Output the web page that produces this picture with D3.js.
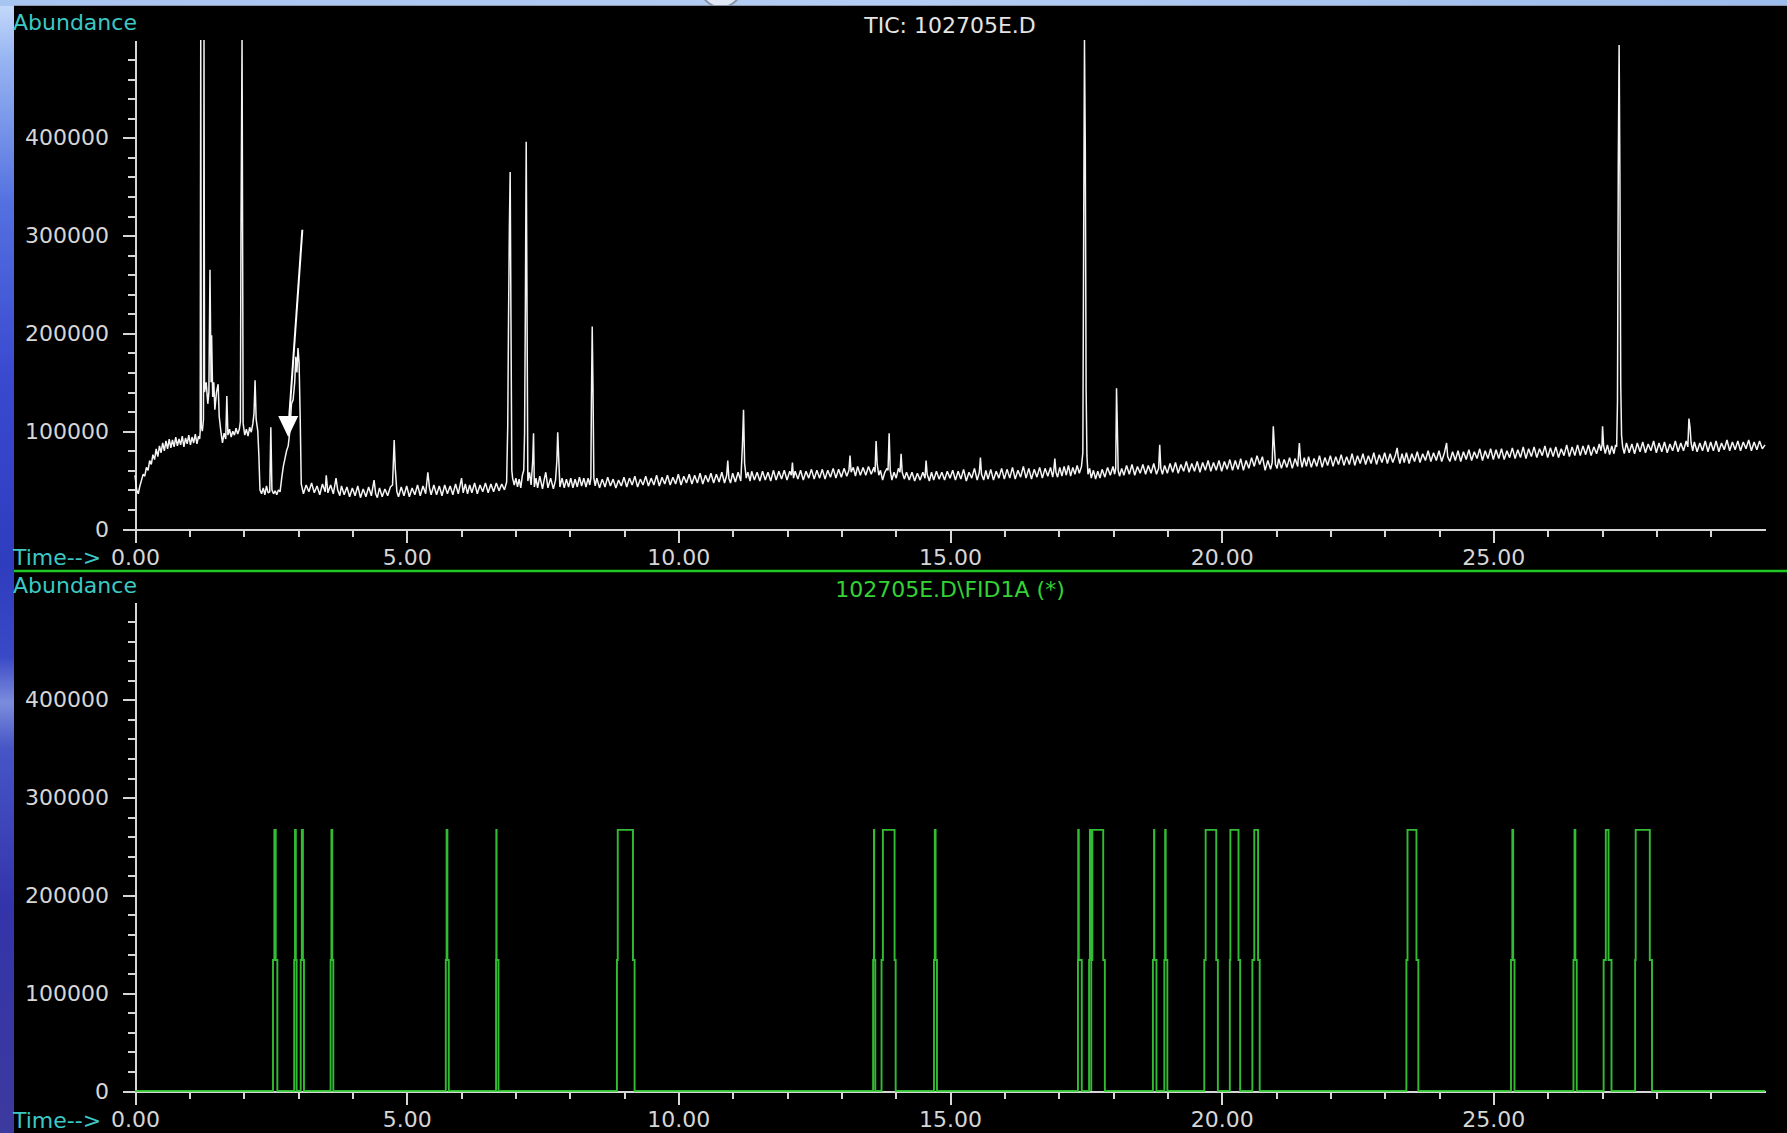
<!DOCTYPE html>
<html><head><meta charset="utf-8">
<script src="https://cdn.jsdelivr.net/npm/d3@7"></script>
<style>html,body{margin:0;padding:0;background:#000;overflow:hidden}svg{display:block}</style>
</head><body><svg id="c" width="1787" height="1133"></svg>
<script>
// ---------------- data ----------------
const ticTitle = "TIC: 102705E.D";
const fidTitle = "102705E.D\\FID1A (*)";
const yAxisName = "Abundance";
const xAxisName = "Time-->";
const xMajorTicks = [0, 5, 10, 15, 20, 25];
const xTickLabels = ["0.00", "5.00", "10.00", "15.00", "20.00", "25.00"];
const xMinorTicks = [0,1,2,3,4,5,6,7,8,9,10,11,12,13,14,15,16,17,18,19,20,21,22,23,24,25,26,27,28,29];
const yMajorTicksK = [0, 100, 200, 300, 400];
const yTickLabels = ["0", "100000", "200000", "300000", "400000"];
const yMinorTicksK = [0,20,40,60,80,100,120,140,160,180,200,220,240,260,280,300,320,340,360,380,400,420,440,460,480];

// TIC trace: [time (min), abundance (thousands)]
const ticAbundanceK = [
[0.00,55],[0.03,40],[0.06,36],[0.09,44],[0.12,50],[0.15,56],[0.18,54],[0.21,63],[0.24,60],[0.27,70],
[0.30,66],[0.33,76],[0.36,71],[0.39,82],[0.42,74],[0.45,85],[0.48,78],[0.51,88],[0.54,80],[0.57,90],
[0.60,82],[0.63,92],[0.66,83],[0.69,91],[0.72,84],[0.75,94],[0.78,85],[0.81,92],[0.84,86],[0.87,95],
[0.90,84],[0.93,93],[0.96,87],[0.99,96],[1.02,86],[1.05,94],[1.08,88],[1.11,97],[1.14,87],[1.17,95],
[1.19,92],[1.20,100],[1.21,520],[1.22,105],[1.24,100],[1.26,112],[1.27,520],[1.28,140],[1.31,150],[1.34,128],
[1.36,140],[1.38,265],[1.40,150],[1.41,198],[1.43,135],[1.45,150],[1.47,122],[1.50,140],[1.53,148],[1.55,115],
[1.58,100],[1.61,88],[1.64,98],[1.67,92],[1.69,136],[1.71,96],[1.74,102],[1.77,94],[1.80,100],[1.83,96],
[1.86,103],[1.89,97],[1.92,102],[1.94,110],[1.95,298],[1.97,520],[1.99,108],[2.02,96],[2.05,102],[2.08,95],
[2.11,104],[2.14,99],[2.17,108],[2.19,118],[2.21,152],[2.23,112],[2.26,100],[2.28,75],[2.30,40],[2.33,36],
[2.36,42],[2.39,35],[2.42,44],[2.45,37],[2.48,38],[2.50,104],[2.52,40],[2.55,36],[2.58,39],[2.61,35],
[2.64,40],[2.67,38],[2.70,52],[2.73,64],[2.76,72],[2.79,80],[2.82,85],[2.85,100],[2.88,128],[2.91,132],
[2.94,150],[2.96,176],[2.98,160],[3.00,185],[3.02,170],[3.04,115],[3.06,46],[3.10,36],[3.15,45],[3.20,38],
[3.25,47],[3.30,37],[3.35,44],[3.40,35],[3.45,46],[3.50,38],[3.52,55],[3.55,37],[3.60,45],[3.65,36],
[3.70,52],[3.73,40],[3.77,34],[3.80,44],[3.85,35],[3.90,43],[3.95,33],[4.00,42],[4.05,34],[4.10,44],
[4.15,32],[4.20,41],[4.25,33],[4.30,43],[4.35,34],[4.40,50],[4.43,36],[4.46,32],[4.50,42],[4.55,33],
[4.60,41],[4.65,34],[4.70,43],[4.74,45],[4.77,91],[4.79,62],[4.82,38],[4.85,33],[4.90,43],[4.95,34],
[5.00,44],[5.05,33],[5.10,42],[5.15,35],[5.20,45],[5.25,34],[5.30,44],[5.35,36],[5.39,58],[5.42,42],
[5.45,35],[5.50,45],[5.55,35],[5.60,44],[5.65,34],[5.70,45],[5.75,36],[5.80,44],[5.85,35],[5.90,46],
[5.95,36],[6.01,52],[6.04,37],[6.08,46],[6.12,36],[6.16,45],[6.20,37],[6.25,47],[6.30,36],[6.35,45],
[6.40,38],[6.45,47],[6.50,37],[6.55,46],[6.60,38],[6.65,47],[6.70,39],[6.75,46],[6.80,40],[6.84,48],
[6.86,105],[6.875,216],[6.89,306],[6.905,365],[6.92,211],[6.935,60],[6.95,52],[6.98,45],[7.01,52],[7.04,43],
[7.07,51],[7.10,42],[7.13,55],[7.155,60],[7.17,98],[7.185,227],[7.20,396],[7.215,229],[7.23,49],[7.26,58],
[7.29,45],[7.32,70],[7.335,98],[7.35,43],[7.38,52],[7.41,42],[7.45,54],[7.50,41],[7.53,50],[7.56,58],
[7.60,42],[7.65,52],[7.70,41],[7.74,50],[7.765,70],[7.78,99],[7.80,70],[7.82,43],[7.86,52],[7.90,42],
[7.94,51],[7.98,43],[8.02,52],[8.06,42],[8.10,51],[8.14,43],[8.18,53],[8.22,44],[8.26,52],[8.30,43],
[8.34,52],[8.37,45],[8.39,52],[8.40,129],[8.415,207],[8.43,140],[8.445,52],[8.47,44],[8.50,52],[8.55,42],
[8.60,51],[8.65,43],[8.70,53],[8.75,44],[8.80,51],[8.85,42],[8.90,50],[8.95,44],[9.00,53],[9.05,43],
[9.10,52],[9.15,45],[9.20,54],[9.25,43],[9.30,51],[9.35,45],[9.40,54],[9.45,44],[9.50,52],[9.55,45],
[9.60,55],[9.65,44],[9.70,53],[9.75,46],[9.80,55],[9.85,45],[9.90,53],[9.95,46],[10.00,56],[10.05,45],
[10.10,54],[10.15,47],[10.20,56],[10.25,46],[10.30,55],[10.35,47],[10.40,57],[10.45,46],[10.50,55],[10.55,48],
[10.60,57],[10.65,47],[10.70,56],[10.75,48],[10.80,58],[10.85,47],[10.89,55],[10.91,70],[10.93,52],[10.96,47],
[11.00,57],[11.05,48],[11.10,58],[11.15,49],[11.18,86],[11.20,122],[11.22,67],[11.25,52],[11.28,58],[11.32,49],
[11.35,59],[11.40,50],[11.45,58],[11.50,49],[11.55,59],[11.60,50],[11.65,58],[11.70,49],[11.75,60],[11.80,50],
[11.85,59],[11.90,51],[11.95,60],[12.00,50],[12.05,59],[12.08,55],[12.10,68],[12.12,52],[12.15,59],[12.20,51],
[12.25,60],[12.30,50],[12.35,59],[12.40,52],[12.45,61],[12.50,51],[12.55,60],[12.60,52],[12.65,61],[12.70,51],
[12.75,60],[12.80,53],[12.85,62],[12.90,52],[12.95,61],[13.00,53],[13.05,62],[13.10,54],[13.14,60],[13.16,75],
[13.18,58],[13.22,63],[13.26,54],[13.30,64],[13.35,55],[13.40,63],[13.45,55],[13.50,64],[13.55,56],[13.60,63],
[13.62,58],[13.64,90],[13.66,66],[13.69,55],[13.72,60],[13.76,50],[13.80,58],[13.84,62],[13.86,60],[13.88,98],
[13.90,60],[13.93,50],[13.97,58],[14.01,52],[14.05,62],[14.08,58],[14.10,77],[14.12,58],[14.16,51],[14.20,58],
[14.25,50],[14.30,58],[14.35,49],[14.40,57],[14.45,50],[14.50,58],[14.54,52],[14.56,70],[14.58,56],[14.62,49],
[14.66,58],[14.70,50],[14.75,59],[14.80,51],[14.85,58],[14.90,50],[14.95,59],[15.00,52],[15.05,60],[15.10,50],
[15.15,59],[15.20,51],[15.25,61],[15.30,49],[15.35,58],[15.40,52],[15.45,62],[15.50,50],[15.54,58],[15.56,73],
[15.58,56],[15.62,50],[15.66,60],[15.70,51],[15.75,61],[15.80,50],[15.85,59],[15.90,52],[15.95,62],[16.00,51],
[16.05,61],[16.10,52],[16.15,63],[16.20,51],[16.25,60],[16.30,53],[16.35,64],[16.40,52],[16.45,62],[16.50,51],
[16.55,61],[16.60,53],[16.65,63],[16.70,52],[16.75,62],[16.80,54],[16.85,63],[16.89,53],[16.91,60],[16.93,72],
[16.95,58],[16.98,53],[17.02,63],[17.06,54],[17.10,64],[17.14,55],[17.18,65],[17.22,54],[17.26,63],[17.30,56],
[17.34,65],[17.38,57],[17.42,64],[17.445,78],[17.46,299],[17.475,520],[17.49,390],[17.505,144],[17.52,75],[17.54,56],
[17.57,62],[17.60,52],[17.64,60],[17.68,51],[17.72,59],[17.76,52],[17.80,61],[17.85,53],[17.90,63],[17.95,55],
[18.00,64],[18.03,56],[18.05,62],[18.065,144],[18.08,104],[18.095,60],[18.12,54],[18.16,62],[18.20,55],[18.25,65],
[18.30,56],[18.35,66],[18.40,55],[18.45,64],[18.50,57],[18.55,66],[18.60,56],[18.65,65],[18.70,57],[18.75,67],
[18.80,56],[18.84,62],[18.86,86],[18.88,62],[18.91,56],[18.95,65],[19.00,57],[19.05,67],[19.10,58],[19.15,68],
[19.20,57],[19.25,66],[19.30,59],[19.35,69],[19.40,58],[19.45,67],[19.50,59],[19.55,69],[19.60,58],[19.65,68],
[19.70,60],[19.75,70],[19.80,59],[19.85,68],[19.90,60],[19.95,70],[20.00,59],[20.05,69],[20.10,61],[20.15,71],
[20.20,60],[20.25,70],[20.30,61],[20.35,72],[20.40,60],[20.45,70],[20.50,62],[20.55,73],[20.60,64],[20.65,75],
[20.70,66],[20.75,74],[20.80,60],[20.85,70],[20.90,61],[20.93,68],[20.95,105],[20.97,85],[20.99,66],[21.02,62],
[21.05,72],[21.10,62],[21.15,71],[21.20,63],[21.25,73],[21.30,62],[21.35,72],[21.40,64],[21.43,88],[21.45,72],
[21.48,63],[21.52,73],[21.56,64],[21.60,74],[21.65,63],[21.70,72],[21.75,64],[21.80,75],[21.85,63],[21.90,73],
[21.95,65],[22.00,75],[22.05,64],[22.10,74],[22.15,66],[22.20,76],[22.25,65],[22.30,74],[22.35,66],[22.40,77],
[22.45,65],[22.50,75],[22.55,67],[22.60,77],[22.65,66],[22.70,75],[22.75,67],[22.80,78],[22.85,66],[22.90,76],
[22.95,68],[23.00,78],[23.05,67],[23.10,77],[23.15,68],[23.20,76],[23.23,83],[23.25,74],[23.28,67],[23.32,77],
[23.36,68],[23.40,78],[23.45,67],[23.50,77],[23.55,69],[23.60,79],[23.65,68],[23.70,77],[23.75,70],[23.80,80],
[23.85,69],[23.90,78],[23.95,70],[24.00,80],[24.05,69],[24.10,78],[24.14,88],[24.16,74],[24.20,69],[24.25,79],
[24.30,70],[24.35,80],[24.40,69],[24.45,79],[24.50,71],[24.55,81],[24.60,70],[24.65,79],[24.70,72],[24.75,82],
[24.80,70],[24.85,80],[24.90,72],[24.95,82],[25.00,71],[25.05,81],[25.10,72],[25.15,82],[25.20,71],[25.25,80],
[25.30,73],[25.35,83],[25.40,72],[25.45,81],[25.50,73],[25.55,84],[25.60,72],[25.65,82],[25.70,74],[25.75,84],
[25.80,73],[25.85,82],[25.90,75],[25.95,85],[26.00,73],[26.05,83],[26.10,74],[26.15,84],[26.20,73],[26.25,82],
[26.30,75],[26.35,86],[26.40,74],[26.45,84],[26.50,75],[26.55,86],[26.60,75],[26.65,85],[26.70,76],[26.75,86],
[26.80,75],[26.85,84],[26.90,77],[26.95,87],[26.98,80],[27.00,86],[27.01,105],[27.03,85],[27.06,77],[27.10,86],
[27.14,76],[27.18,85],[27.22,77],[27.25,86],[27.27,84],[27.285,130],[27.30,374],[27.315,495],[27.33,357],[27.345,147],
[27.36,96],[27.38,84],[27.41,77],[27.45,88],[27.50,78],[27.55,87],[27.60,77],[27.65,88],[27.70,79],[27.75,89],
[27.80,78],[27.85,87],[27.90,80],[27.95,90],[28.00,78],[28.05,88],[28.10,79],[28.15,89],[28.20,78],[28.25,87],
[28.30,80],[28.35,90],[28.40,79],[28.45,88],[28.50,80],[28.55,90],[28.58,84],[28.60,113],[28.62,104],[28.64,88],
[28.67,80],[28.70,89],[28.75,79],[28.80,88],[28.85,80],[28.90,90],[28.95,79],[29.00,89],[29.05,80],[29.10,90],
[29.15,79],[29.20,88],[29.25,81],[29.30,91],[29.35,80],[29.40,89],[29.45,81],[29.50,90],[29.55,80],[29.60,89],
[29.65,82],[29.70,91],[29.75,80],[29.80,89],[29.85,81],[29.90,90],[29.95,82],[30.00,86]
];

// FID trace: rectangular peaks [rise start, rise end, fall start, fall end] (min)
const fidPulses = [
[2.54,2.565,2.59,2.62],[2.93,2.945,2.96,2.975],[3.05,3.07,3.09,3.11],[3.60,3.615,3.63,3.65],
[5.72,5.735,5.75,5.775],[6.645,6.65,6.655,6.69],[8.87,8.885,9.165,9.195],[13.585,13.60,13.605,13.625],
[13.74,13.765,13.98,14.00],[14.705,14.72,14.735,14.76],[17.355,17.36,17.37,17.425],[17.56,17.575,17.585,17.60],
[17.60,17.62,17.82,17.85],[18.735,18.755,18.76,18.80],[18.945,18.96,18.97,19.00],[19.68,19.705,19.90,19.93],
[20.15,20.16,20.31,20.34],[20.565,20.60,20.67,20.70],[23.40,23.42,23.585,23.62],[25.325,25.35,25.365,25.39],
[26.475,26.495,26.51,26.535],[27.03,27.07,27.12,27.175],[27.61,27.62,27.88,27.92]
];
const fidLevelsK = [134, 267];   // step level, plateau level (thousands)

// annotation arrow (data coordinates: min, thousands)
const arrowTail = [3.08, 306];
const arrowTip = [2.82, 94];

// ---------------- drawing ----------------
const W = 1787, H = 1133;
const svg = d3.select("#c");
const FONT = "'DejaVu Sans', Verdana, sans-serif";

const defs = svg.append("defs");
const sideGrad = defs.append("linearGradient").attr("id","side").attr("x1",0).attr("y1",0).attr("x2",0).attr("y2",1);
[[0,"#c8dcfa"],[0.05,"#98b6f2"],[0.18,"#5470e0"],[0.33,"#3a4ad0"],[0.5,"#2e3cbe"],[0.58,"#3a4ac6"],
 [0.62,"#7c8cdc"],[0.66,"#4656c6"],[0.8,"#3434aa"],[1,"#3c3a9e"]].forEach(s =>
  sideGrad.append("stop").attr("offset",s[0]).attr("stop-color",s[1]));
const topGrad = defs.append("linearGradient").attr("id","topstrip").attr("x1",0).attr("y1",0).attr("x2",1).attr("y2",0);
[[0,"#a8c4f0"],[0.5,"#b4cdf4"],[1,"#9cbcec"]].forEach(s =>
  topGrad.append("stop").attr("offset",s[0]).attr("stop-color",s[1]));

svg.append("rect").attr("width",W).attr("height",H).attr("fill","url(#side)");
svg.append("rect").attr("x",0).attr("y",0).attr("width",W).attr("height",6).attr("fill","url(#topstrip)");
svg.append("circle").attr("cx",721).attr("cy",-14).attr("r",21).attr("fill","#dfe8f4").attr("stroke","#8a90a0").attr("stroke-width",2);
svg.append("rect").attr("x",14).attr("y",6).attr("width",W-14).attr("height",H-6).attr("fill","#000");
svg.append("line").attr("x1",14).attr("x2",W).attr("y1",5.5).attr("y2",5.5).attr("stroke","#8c96a8").attr("stroke-width",1);

const x = d3.scaleLinear().domain([0, 30]).range([135, 1765]);
const yTop = d3.scaleLinear().domain([0, 500]).range([529, 40]).clamp(true);
const yBot = d3.scaleLinear().domain([0, 500]).range([1091, 602]).clamp(true);

const AX = "#d6d6d6";
function styleAxis(g) {
  g.attr("font-family", FONT).attr("font-size", 22);
  g.selectAll("path,line").attr("stroke", AX).attr("stroke-width", 2).attr("shape-rendering","crispEdges");
  g.selectAll("text").attr("fill", AX);
}
function drawAxes(y, zeroY) {
  svg.append("g").attr("transform",`translate(0,${zeroY})`)
    .call(d3.axisBottom(x).tickValues(xMinorTicks).tickSize(8).tickSizeOuter(0).tickFormat(""))
    .call(styleAxis);
  svg.append("g").attr("transform",`translate(0,${zeroY})`)
    .call(d3.axisBottom(x).tickValues(xMajorTicks).tickSize(14).tickSizeOuter(0).tickPadding(6)
      .tickFormat((d,i) => xTickLabels[i]))
    .call(styleAxis);
  svg.append("g").attr("transform",`translate(${x(0)},0)`)
    .call(d3.axisLeft(y).tickValues(yMinorTicksK).tickSize(7).tickSizeOuter(0).tickFormat(""))
    .call(styleAxis);
  svg.append("g").attr("transform",`translate(${x(0)},0)`)
    .call(d3.axisLeft(y).tickValues(yMajorTicksK).tickSize(12).tickSizeOuter(0).tickPadding(14)
      .tickFormat((d,i) => yTickLabels[i]))
    .call(styleAxis);
}
drawAxes(yTop, 529);
drawAxes(yBot, 1091);

// separator
svg.append("line").attr("x1",14).attr("x2",W).attr("y1",571).attr("y2",571)
  .attr("stroke","#22c822").attr("stroke-width",2.5);

// labels
const CY = "#3cc8c4";
function txt(s, xx, yy, fill, anchor) {
  svg.append("text").attr("x",xx).attr("y",yy).attr("fill",fill).attr("font-family",FONT)
    .attr("font-size",22).attr("text-anchor",anchor||"start").text(s);
}
txt(yAxisName, 13, 30, CY);
txt(xAxisName, 13, 565, CY);
txt(yAxisName, 13, 593, CY);
txt(xAxisName, 13, 1128, CY);
txt(ticTitle, (x(0)+x(30))/2, 33, "#e4e4e4", "middle");
txt(fidTitle, (x(0)+x(30))/2, 597, "#34d234", "middle");

// TIC trace
const lineTop = d3.line().x(d => x(d[0])).y(d => yTop(d[1]));
svg.append("path").datum(ticAbundanceK).attr("d", lineTop)
  .attr("fill","none").attr("stroke","#f4f4f4").attr("stroke-width",1.5).attr("stroke-linejoin","bevel");

// FID trace
const [fidMid, fidTop] = fidLevelsK;
const fidPoints = [[0,0]];
fidPulses.forEach(([a,b,c,d]) => {
  fidPoints.push([a,0],[a,fidMid],[b,fidMid],[b,fidTop],[c,fidTop],[c,fidMid],[d,fidMid],[d,0]);
});
fidPoints.push([30,0]);
const lineBot = d3.line().x(d => x(d[0])).y(d => yBot(d[1]));
svg.append("path").datum(fidPoints).attr("d", lineBot)
  .attr("fill","none").attr("stroke","#38d038").attr("stroke-opacity",0.9).attr("stroke-width",1.9)
  .attr("stroke-linejoin","miter");

// annotation arrow
const tx = x(arrowTip[0]), ty = yTop(arrowTip[1]);
svg.append("line").attr("x1",x(arrowTail[0])).attr("y1",yTop(arrowTail[1]))
  .attr("x2",tx+1).attr("y2",ty-20).attr("stroke","#fff").attr("stroke-width",2);
svg.append("path").attr("d",`M${tx-10},${ty-21}L${tx+10},${ty-21}L${tx},${ty}Z`).attr("fill","#fff");
</script></body></html>
